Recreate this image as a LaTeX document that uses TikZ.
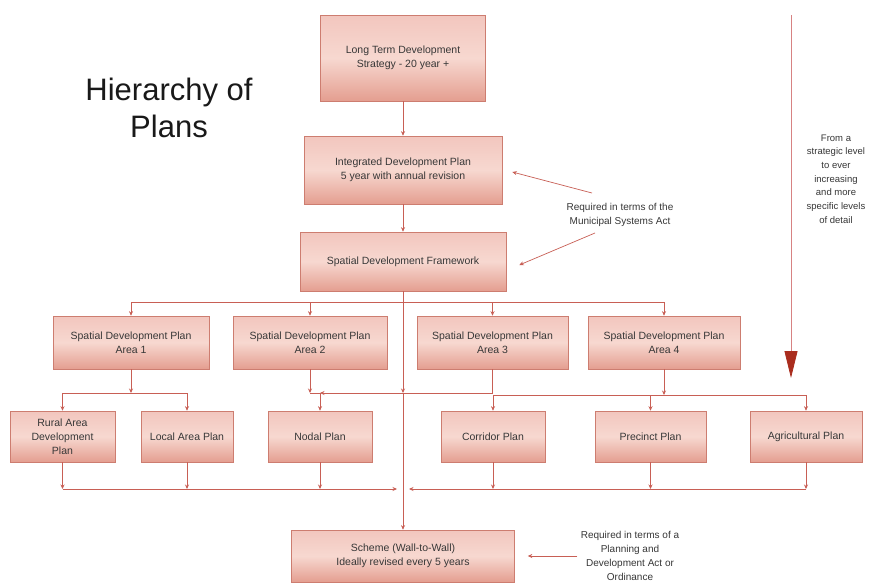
\documentclass[tikz,border=0pt]{standalone}
\usepackage{fontspec}
\setmainfont{Liberation Sans}
\usetikzlibrary{arrows.meta,calc}
\definecolor{ln}{RGB}{200,95,85}
\definecolor{bd}{RGB}{205,125,112}
\definecolor{ftop}{RGB}{242,198,190}
\definecolor{fmid}{RGB}{247,216,208}
\definecolor{fbot}{RGB}{228,158,144}
\definecolor{txt}{RGB}{55,55,55}
\definecolor{bigarrow}{RGB}{170,45,30}
\definecolor{bigline}{RGB}{215,130,130}
\begin{document}
\begin{tikzpicture}[x=1pt,y=-1pt,
  box/.style={draw=bd, line width=0.6pt, top color=ftop, bottom color=fbot, middle color=fmid,
    align=center, font=\fontsize{10.5}{13.8}\selectfont, text=txt, inner sep=2pt},
  conn/.style={draw=ln, line width=0.7pt, -{Stealth[length=4.5pt,width=4pt]}},
  note/.style={align=center, font=\fontsize{10}{14}\selectfont, text=txt}]
\fill[white] (0,0) rectangle (871,584);
\useasboundingbox (0,0) rectangle (871,584);

% title
\node[font=\fontsize{31}{37}\selectfont, align=center, text=black!90] (title) at (169,108) {Hierarchy of\\Plans};

% boxes
\node[box, minimum width=165pt, minimum height=86pt] (lt) at (403,58) {Long Term Development\\Strategy - 20 year +};
\node[box, minimum width=198pt, minimum height=68pt] (idp) at (403,170) {Integrated Development Plan\\5 year with annual revision};
\node[box, minimum width=206pt, minimum height=59pt] (sdf) at (403,261.5) {Spatial Development Framework};

\node[box, minimum width=156pt, minimum height=53pt] (a1) at (131,342.5) {Spatial Development Plan\\Area 1};
\node[box, minimum width=154pt, minimum height=53pt] (a2) at (310,342.5) {Spatial Development Plan\\Area 2};
\node[box, minimum width=151pt, minimum height=53pt] (a3) at (492.5,342.5) {Spatial Development Plan\\Area 3};
\node[box, minimum width=152pt, minimum height=53pt] (a4) at (664,342.5) {Spatial Development Plan\\Area 4};

\node[box, minimum width=105pt, minimum height=51pt] (rural) at (62.5,436.5) {Rural Area\\Development\\Plan};
\node[box, minimum width=92pt, minimum height=51pt] (local) at (187,436.5) {Local Area Plan};
\node[box, minimum width=104pt, minimum height=51pt] (nodal) at (320,436.5) {Nodal Plan};
\node[box, minimum width=104pt, minimum height=51pt] (corr) at (493,436.5) {Corridor Plan};
\node[box, minimum width=111pt, minimum height=51pt] (prec) at (650.5,436.5) {Precinct Plan};
\node[box, minimum width=112pt, minimum height=51pt] (agri) at (806,436.5) {Agricultural Plan};

\node[box, minimum width=223pt, minimum height=52pt] (scheme) at (403,556) {Scheme (Wall-to-Wall)\\Ideally revised every 5 years};

% junctions
\coordinate (j2) at (403,393);
\coordinate (j3) at (403,489);
\coordinate (j4) at (664,395);

% top chain
\draw[conn] (lt.south) -- (idp.north);
\draw[conn] (idp.south) -- (sdf.north);
\draw[conn] (sdf.south) -- ++(0,11) -| (a1.north);
\draw[conn] (sdf.south) -- ++(0,11) -| (a2.north);
\draw[conn] (sdf.south) -- ++(0,11) -| (a3.north);
\draw[conn] (sdf.south) -- ++(0,11) -| (a4.north);

% main vertical
\draw[conn] (sdf.south) -- (j2);
\draw[conn] (j2) -- (scheme.north);

% left bus
\draw[conn] (a1.south) -- (a1.south |- j2);
\draw[conn] (a1.south |- j2) -| (rural.north);
\draw[conn] (a1.south |- j2) -| (local.north);
\draw[conn] (a2.south) -- (a2.south |- j2);
\draw[conn] (a2.south |- j2) -| (nodal.north);
\draw[conn] (a3.south) |- (nodal.north |- j2);

% right bus
\draw[conn] (a4.south) -- (j4);
\draw[conn] (j4) -| (corr.north);
\draw[conn] (j4) -| (prec.north);
\draw[conn] (j4) -| (agri.north);

% bottom bus
\foreach \b in {rural,local,nodal,corr,prec,agri}
  \draw[conn] (\b.south) -- (\b.south |- j3);
\draw[conn] (rural.south |- j3) -- ([xshift=-6pt]j3);
\draw[conn] (agri.south |- j3) -- ([xshift=6pt]j3);

% annotations
\node[note] (req1) at (620,215) {Required in terms of the\\Municipal Systems Act};
\coordinate (r1a) at (592,193);
\coordinate (r1b) at (595,233);
\draw[conn] (r1a) -- ([xshift=10pt,yshift=-2pt]idp.east);
\draw[conn] (r1b) -- ([xshift=13pt,yshift=-3.5pt]sdf.east);

\node[note] (req2) at (630,556) {Required in terms of a\\Planning and\\Development Act or\\Ordinance};
\draw[conn] (req2.west) -- ([xshift=13pt]scheme.east);

% direction arrow
\coordinate (vt) at (791,15);
\coordinate (vb) at (791,378);
\draw[draw=bigline, line width=0.8pt, -{Triangle[length=27pt,width=13pt,color=bigarrow]}] (vt) -- (vb);
\node[note, font=\fontsize{9.5}{13.7}\selectfont] (dir) at (836,179) {From a\\strategic level\\to ever\\increasing\\and more\\specific levels\\of detail};
\end{tikzpicture}
\end{document}
